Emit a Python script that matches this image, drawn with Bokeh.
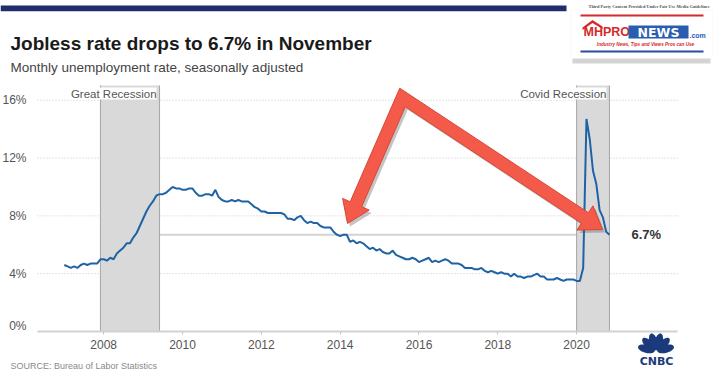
import math
from bokeh.plotting import figure
from bokeh.models import (Range1d, FixedTicker, PrintfTickFormatter, Label, LinearAxis,
                          BoxAnnotation, PolyAnnotation)
from bokeh.embed import file_html
from bokeh.resources import INLINE

# ---------------- data (monthly unemployment rate, %, seasonally adjusted) ----------------
rate_2007 = [4.6, 4.5, 4.4, 4.5, 4.4, 4.6, 4.7, 4.6, 4.7, 4.7, 4.7, 5.0]
rate_2008 = [5.0, 4.9, 5.1, 5.0, 5.4, 5.6, 5.8, 6.1, 6.1, 6.5, 6.8, 7.3]
rate_2009 = [7.8, 8.3, 8.7, 9.0, 9.4, 9.5, 9.5, 9.6, 9.8, 10.0, 9.9, 9.9]
rate_2010 = [9.8, 9.8, 9.9, 9.9, 9.6, 9.4, 9.4, 9.5, 9.5, 9.4, 9.8, 9.3]
rate_2011 = [9.1, 9.0, 9.0, 9.1, 9.0, 9.1, 9.0, 9.0, 9.0, 8.8, 8.6, 8.5]
rate_2012 = [8.3, 8.3, 8.2, 8.2, 8.2, 8.2, 8.2, 8.1, 7.8, 7.8, 7.7, 7.9]
rate_2013 = [8.0, 7.7, 7.5, 7.6, 7.5, 7.5, 7.3, 7.2, 7.2, 7.2, 6.9, 6.7]
rate_2014 = [6.6, 6.7, 6.7, 6.2, 6.3, 6.1, 6.2, 6.1, 5.9, 5.7, 5.8, 5.6]
rate_2015 = [5.7, 5.5, 5.4, 5.4, 5.6, 5.3, 5.2, 5.1, 5.0, 5.0, 5.1, 5.0]
rate_2016 = [4.8, 4.9, 5.0, 5.1, 4.8, 4.9, 4.8, 4.9, 5.0, 4.9, 4.7, 4.7]
rate_2017 = [4.7, 4.6, 4.4, 4.4, 4.4, 4.3, 4.3, 4.4, 4.2, 4.1, 4.2, 4.1]
rate_2018 = [4.0, 4.1, 4.0, 4.0, 3.8, 4.0, 3.8, 3.8, 3.7, 3.8, 3.8, 3.9]
rate_2019 = [4.0, 3.8, 3.8, 3.6, 3.6, 3.6, 3.7, 3.6, 3.5, 3.6, 3.6, 3.6]
rate_2020 = [3.5, 3.5, 4.4, 14.7, 13.3, 11.1, 10.2, 8.4, 7.9, 6.9, 6.7]

rates_by_year = {2007: rate_2007, 2008: rate_2008, 2009: rate_2009, 2010: rate_2010,
                 2011: rate_2011, 2012: rate_2012, 2013: rate_2013, 2014: rate_2014,
                 2015: rate_2015, 2016: rate_2016, 2017: rate_2017, 2018: rate_2018,
                 2019: rate_2019, 2020: rate_2020}

recession_names = ["Great Recession", "Covid Recession"]
recession_start = [2007.917, 2020.0]
recession_end = [2009.417, 2020.833]

x_ticks = [2008, 2010, 2012, 2014, 2016, 2018, 2020]
y_ticks = [4, 8, 12, 16]
y_zero_tick = [0]
latest_rate = 6.7
latest_label = "6.7%"

title_text = "Jobless rate drops to 6.7% in November"
subtitle_text = "Monthly unemployment rate, seasonally adjusted"
source_text = "SOURCE: Bureau of Labor Statistics"
fair_use_text = "Third Party Content Provided Under Fair Use Media Guidelines"

dates, rates = [], []
for yr, vals in rates_by_year.items():
    for m, v in enumerate(vals):
        dates.append(yr + m / 12.0)
        rates.append(v)

# ---------------- layout helpers (page pixel -> data) ----------------
PAGE_X, PAGE_Y = 0, 0                      # where the figure sits on the page
W, H = 718, 371
FL, FR, FT, FB = 37, 677, 85, 331          # chart area in page pixels
X0, X1 = 2006.32, 2022.56                  # data at FL / FR
Y0, Y1 = 0.0, 17.02                        # data at FB / FT
PX_Y = (Y1 - Y0) / (FB - FT)               # data units per pixel (y)


def X(px):
    return X0 + (px - FL) * (X1 - X0) / (FR - FL)


def Y(py):
    return Y0 + (FB - py) * PX_Y


FONT = "Liberation Sans"

p = figure(width=W, height=H,
           x_range=Range1d(X(PAGE_X), X(PAGE_X + W)),
           y_range=Range1d(Y(PAGE_Y + H), Y(PAGE_Y)),
           output_backend="svg", toolbar_location=None,
           x_axis_location=None, y_axis_location=None,
           min_border_left=0, min_border_right=0, min_border_top=0, min_border_bottom=0,
           background_fill_color="white", border_fill_color="white",
           outline_line_color=None)
p.grid.visible = False

# the "0%" label sits a little above the baseline in the original
shift = 6 * PX_Y
p.extra_y_ranges = {"zero": Range1d(Y(PAGE_Y + H) - shift, Y(PAGE_Y) - shift)}

# axes drawn at fixed locations inside the canvas
xaxis = LinearAxis(fixed_location=0, bounds=(X(FL), X(FR)),
                   ticker=FixedTicker(ticks=x_ticks), formatter=PrintfTickFormatter(format="%d"))
xaxis.axis_line_color = "#d2d2d2"
xaxis.axis_line_width = 2
xaxis.major_tick_line_color = "#c4c4c4"
xaxis.major_tick_out = 3
xaxis.major_tick_in = 0
xaxis.minor_tick_line_color = None
xaxis.major_label_text_font = FONT
xaxis.major_label_text_font_size = "12px"
xaxis.major_label_text_color = "#555555"
xaxis.major_label_standoff = 5
p.add_layout(xaxis, "below")


def style_y(ax):
    ax.axis_line_color = None
    ax.major_tick_line_color = None
    ax.minor_tick_line_color = None
    ax.major_label_text_font = FONT
    ax.major_label_text_font_size = "12px"
    ax.major_label_text_color = "#555555"
    ax.major_label_standoff = 5


yaxis = LinearAxis(fixed_location=X(FL), ticker=FixedTicker(ticks=y_ticks),
                   formatter=PrintfTickFormatter(format="%d%%"))
style_y(yaxis)
p.add_layout(yaxis, "left")
yaxis0 = LinearAxis(fixed_location=X(FL), y_range_name="zero", ticker=FixedTicker(ticks=y_zero_tick),
                    formatter=PrintfTickFormatter(format="%d%%"))
style_y(yaxis0)
p.add_layout(yaxis0, "left")

# dotted horizontal grid lines across the chart area
p.segment(x0=[X(FL)] * len(y_ticks), y0=y_ticks, x1=[X(FR)] * len(y_ticks), y1=y_ticks,
          line_color="#c8c8c8", line_dash="1 2", line_width=1)

# reference line at latest value
p.segment(x0=[recession_end[0]], y0=[latest_rate], x1=[recession_start[1]], y1=[latest_rate],
          line_color="#d3d3d3", line_width=2)

# recession bands
top_val = Y(FT)
p.quad(left=recession_start, right=recession_end, bottom=[0] * 2, top=[top_val] * 2,
       fill_color="#d9d9d9", line_color=None)
edges = recession_start + recession_end
p.segment(x0=edges, y0=[0] * 4, x1=edges, y1=[top_val] * 4, line_color="#a5a5a5", line_width=1)

# data line
p.line(dates, rates, line_color="#1f63a6", line_width=2)

# recession labels
for name, end in zip(recession_names, recession_end):
    p.add_layout(Label(x=end, y=Y(93), x_offset=-3, text=name, text_align="right",
                       text_baseline="middle", text_font=FONT, text_font_size="11.5px",
                       text_color="#555555", background_fill_color="white"))

# latest value label
p.add_layout(Label(x=dates[-1], y=latest_rate, x_offset=22, text=latest_label,
                   text_align="left", text_baseline="middle", text_font=FONT,
                   text_font_size="13px", text_font_style="bold", text_color="#333333"))


# ---------------- red arrows (annotation) ----------------
def _norm(v):
    l = math.hypot(v[0], v[1])
    return (v[0] / l, v[1] / l)


def _isect(p1, d1, p2, d2):
    det = d1[0] * (-d2[1]) - d1[1] * (-d2[0])
    rx, ry = p2[0] - p1[0], p2[1] - p1[1]
    t = (rx * (-d2[1]) - ry * (-d2[0])) / det
    return (p1[0] + t * d1[0], p1[1] + t * d1[1])


def arrow_polygon(V, tipA, tipB, w, hw, hl):
    dA = _norm((tipA[0] - V[0], tipA[1] - V[1]))
    dB = _norm((tipB[0] - V[0], tipB[1] - V[1]))

    def outward(d, other):
        n = (-d[1], d[0])
        if n[0] * other[0] + n[1] * other[1] > 0:
            n = (-n[0], -n[1])
        return n
    nA, nB = outward(dA, dB), outward(dB, dA)
    h = w / 2.0
    top = _isect((V[0] + nA[0] * h, V[1] + nA[1] * h), dA, (V[0] + nB[0] * h, V[1] + nB[1] * h), dB)
    inner = _isect((V[0] - nA[0] * h, V[1] - nA[1] * h), dA, (V[0] - nB[0] * h, V[1] - nB[1] * h), dB)

    def head(tip, d, n):
        b = (tip[0] - d[0] * hl, tip[1] - d[1] * hl)
        return ((b[0] + n[0] * h, b[1] + n[1] * h), (b[0] + n[0] * hw / 2, b[1] + n[1] * hw / 2),
                (b[0] - n[0] * hw / 2, b[1] - n[1] * hw / 2), (b[0] - n[0] * h, b[1] - n[1] * h))
    so_a, wo_a, wi_a, si_a = head(tipA, dA, nA)
    so_b, wo_b, wi_b, si_b = head(tipB, dB, nB)
    return [tipA, wo_a, so_a, top, so_b, wo_b, tipB, wi_b, si_b, inner, si_a, wi_a]


arrow_pts = arrow_polygon((402, 97), (347, 223), (602, 229), 12.5, 29, 21)
p.patch([X(a + 2.5) for a, b in arrow_pts], [Y(b + 3) for a, b in arrow_pts],
        fill_color="#555555", fill_alpha=0.35, line_color=None)
p.patch([X(a) for a, b in arrow_pts], [Y(b) for a, b in arrow_pts],
        fill_color="#f45a4a", line_color="#d84534", line_width=1)

# ---------------- header / footer texts ----------------
p.add_layout(Label(x=X(10), y=Y(42.7), text=title_text, text_align="left",
                   text_baseline="alphabetic", text_font=FONT, text_font_size="19px",
                   text_font_style="bold", text_color="#1a1a1a"))
p.add_layout(Label(x=X(10), y=Y(66.5), text=subtitle_text, text_align="left",
                   text_baseline="alphabetic", text_font=FONT, text_font_size="13.5px",
                   text_color="#444444"))
p.add_layout(Label(x=X(10), y=Y(365), text=source_text, text_align="left",
                   text_baseline="middle", text_font=FONT, text_font_size="9px",
                   text_color="#8a8a8a"))

# navy top bar
p.add_layout(BoxAnnotation(left=X(0), right=X(566), top=Y(5), bottom=Y(10.7),
                           fill_color="#1f2d6b", fill_alpha=1, line_color=None))

# ---------------- MHProNews logo ----------------
p.add_layout(Label(x=X(588), y=Y(5.5), text=fair_use_text, text_align="left",
                   text_baseline="middle", text_font="Liberation Serif", text_font_size="4.4px",
                   text_font_style="bold", text_color="#555555"))
p.add_layout(BoxAnnotation(left=X(572), right=X(710), top=Y(57), bottom=Y(63),
                           fill_color="#b8b8b8", fill_alpha=0.6, line_color=None))
p.add_layout(BoxAnnotation(left=X(570), right=X(712), top=Y(10), bottom=Y(58),
                           fill_color="white", fill_alpha=1, line_color="#eeeeee"))
p.add_layout(BoxAnnotation(left=X(580), right=X(703), top=Y(14), bottom=Y(16),
                           fill_color="#d42a2a", fill_alpha=1, line_color=None))
p.add_layout(BoxAnnotation(left=X(580), right=X(703), top=Y(50), bottom=Y(52),
                           fill_color="#2b4aa0", fill_alpha=1, line_color=None))
roof = [(582, 27), (592, 19.5), (602, 26), (602, 28.5), (592, 22.5), (582, 29.5)]
p.add_layout(PolyAnnotation(xs=[X(a) for a, b in roof], ys=[Y(b) for a, b in roof],
                            fill_color="#d42a2a", fill_alpha=1, line_color=None))
p.add_layout(Label(x=X(583), y=Y(31.5), text="MHPRO", text_align="left",
                   text_baseline="middle", text_font=FONT, text_font_size="12.5px",
                   text_font_style="bold", text_color="#d42a2a"))
p.add_layout(BoxAnnotation(left=X(628), right=X(688), top=Y(25), bottom=Y(38),
                           fill_color="#2a5db0", fill_alpha=1, line_color=None))
p.add_layout(Label(x=X(658), y=Y(31.5), text="NEWS", text_align="center",
                   text_baseline="middle", text_font="DejaVu Sans", text_font_size="12.5px",
                   text_font_style="bold", text_color="white"))
p.add_layout(Label(x=X(689), y=Y(35), text=".com", text_align="left",
                   text_baseline="middle", text_font=FONT, text_font_size="7px",
                   text_font_style="bold", text_color="#2a5db0"))
p.add_layout(Label(x=X(645), y=Y(44), text="Industry News, Tips and Views Pros can Use",
                   text_align="center", text_baseline="middle", text_font=FONT,
                   text_font_size="4.6px", text_font_style="bold italic", text_color="#d42a2a"))

# ---------------- CNBC logo ----------------
NAVY = "#1b3a7c"
bx, by = 655.5, 351
for ang in [15, 45, 75, 105, 135, 165]:
    th = math.radians(ang)
    cx, cy = bx + 10 * math.cos(th), by - 10 * math.sin(th)
    xs, ys = [], []
    for k in range(24):
        t = 2 * math.pi * k / 24
        u, v = 8.6 * math.cos(t), 4.0 * math.sin(t)
        xs.append(X(cx + u * math.cos(th) - v * math.sin(th)))
        ys.append(Y(cy - (u * math.sin(th) + v * math.cos(th))))
    p.add_layout(PolyAnnotation(xs=xs, ys=ys, fill_color=NAVY, fill_alpha=1, line_color=None))
p.add_layout(Label(x=X(656), y=Y(360.5), text="CNBC", text_align="center",
                   text_baseline="alphabetic", text_font="DejaVu Sans", text_font_size="11px",
                   text_font_style="bold", text_color=NAVY))

open("out.html", "w").write(file_html(p, INLINE))
